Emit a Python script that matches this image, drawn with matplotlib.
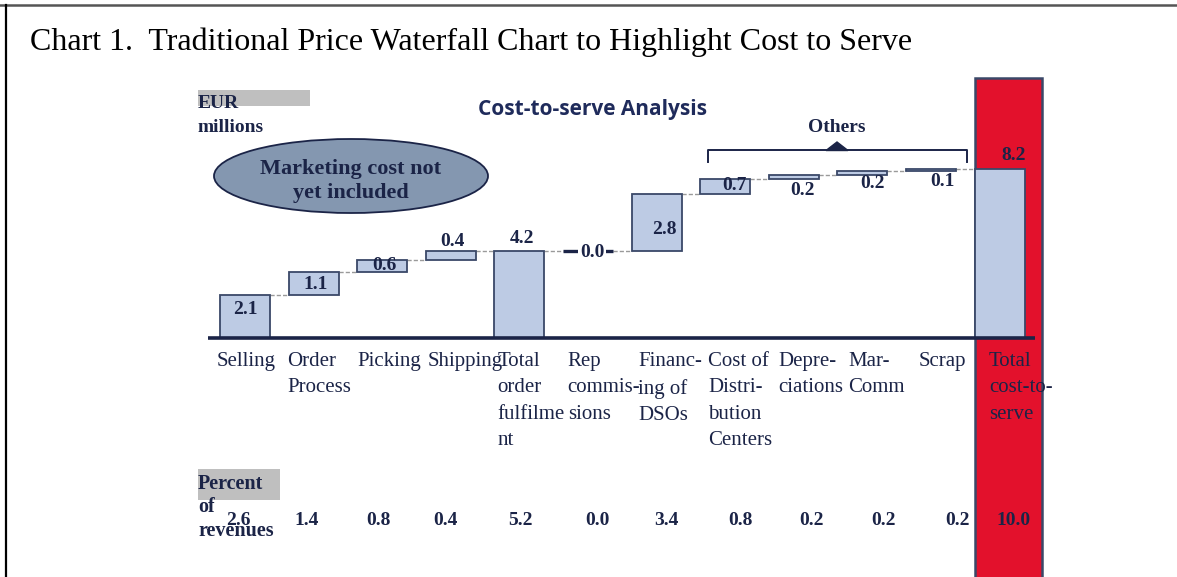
import matplotlib
matplotlib.use("Agg")
import matplotlib.pyplot as plt
from matplotlib.patches import Ellipse, Rectangle, Polygon
from matplotlib.lines import Line2D

# ---------------- data ----------------
categories = ["Selling", "Order\nProcess", "Picking", "Shipping",
              "Total\norder\nfulfilme\nnt", "Rep\ncommis-\nsions",
              "Financ-\ning of\nDSOs", "Cost of\nDistri-\nbution\nCenters",
              "Depre-\nciations", "Mar-\nComm", "Scrap", "Total\ncost-to-\nserve"]
values = [2.1, 1.1, 0.6, 0.4, 4.2, 0.0, 2.8, 0.7, 0.2, 0.2, 0.1, 8.2]
is_total = [False, False, False, False, True, False, False, False, False, False, False, True]
pct_revenue = ["2.6", "1.4", "0.8", "0.4", "5.2", "0.0", "3.4", "0.8", "0.2", "0.2", "0.2", "10.0"]

# ---------------- layout / style ----------------
W, H = 1177, 577
NAVY = "#1B2447"
EDGE = "#3A4868"
FILL = "#BDCBE4"
RED = "#E3112C"
GRAY = "#BFBFBF"
SERIF = ["Liberation Serif", "DejaVu Serif"]

# value label placement: (mode, dx, dy)
label_place = [("mid", 0.00, 0.10), ("mid", 0.03, -0.25), ("mid", 0.03, -0.20),
               ("top", 0.03, 0.25), ("top", 0.04, 0.42), ("mid", 0.06, -0.25),
               ("mid", 0.12, -0.55), ("mid", 0.14, -0.15), ("bot", 0.13, -0.75),
               ("bot", 0.15, -0.62), ("bot", 0.17, -0.72), ("top", 0.20, 0.45)]
pct_x_px = [238, 307, 378, 445, 520, 597, 666, 740, 812, 883, 957, 1013]

fig = plt.figure(figsize=(W / 100, H / 100), dpi=100)
ax = fig.add_axes([0, 0, 1, 1])
PX0, PXS = 245.0, 68.6     # pixel of category 0, pixels per category
PY0, PYS = 338.0, 20.6     # pixel of value 0, pixels per unit
ax.set_xlim((0 - PX0) / PXS, (W - PX0) / PXS)
ax.set_ylim((PY0 - H) / PYS, PY0 / PYS)
ax.axis("off")


def fp(px, py):
    return px / W, 1 - py / H


bw = 0.73
n = len(values)

# running bottoms
bottoms, tops = [], []
cum = 0.0
for v, t in zip(values, is_total):
    if t:
        bottoms.append(0.0)
        tops.append(v)
        cum = v
    else:
        bottoms.append(cum)
        cum += v
        tops.append(cum)

# red highlight column behind the final total
ax.add_patch(Rectangle((n - 1 - bw / 2, ax.get_ylim()[0] - 1), 0.99,
                       12.62 - ax.get_ylim()[0] + 1, facecolor=RED,
                       edgecolor=EDGE, linewidth=1.8, zorder=1))

# bars
for i in range(n):
    h = tops[i] - bottoms[i]
    if h > 0:
        ax.bar(i, h, bottom=bottoms[i], width=bw, color=FILL, edgecolor=EDGE,
               linewidth=1.3, zorder=3)
    else:
        ax.hlines(bottoms[i], i - bw / 2, i + bw / 2, color=NAVY, linewidth=2.4, zorder=3)

# connectors
for i in range(n - 1):
    ax.hlines(tops[i], i + bw / 2, i + 1 - bw / 2, color="#9A9A9A",
              linewidth=1.0, linestyles=(0, (3, 1.5)), zorder=2)

# baseline
ax.hlines(0, (208 - PX0) / PXS, (1035 - PX0) / PXS, color=NAVY, linewidth=2.6, zorder=4)

# value labels
for i in range(n):
    mode, dx, dy = label_place[i]
    if mode == "mid":
        y = (bottoms[i] + tops[i]) / 2 + dy
    elif mode == "top":
        y = tops[i] + dy
    else:
        y = bottoms[i] + dy
    kw = {}
    if values[i] == 0:
        kw["bbox"] = dict(facecolor="white", edgecolor="none", pad=1.5)
    ax.text(i + dx, y, f"{values[i]:.1f}", ha="center", va="baseline",
            fontsize=14, fontweight="bold", color=NAVY, family=SERIF, zorder=6, **kw)

# category labels
for i, c in enumerate(categories):
    x, y = fp(216.7 + 70.2 * i, 352)
    fig.text(x, y, c, ha="left", va="top", fontsize=15, color=NAVY,
             family=SERIF, linespacing=1.52, zorder=6)

# percent of revenue row
for i, p in enumerate(pct_revenue):
    x, y = fp(pct_x_px[i], 525)
    fig.text(x, y, p, ha="center", va="baseline", fontsize=14, fontweight="bold",
             color=NAVY, family=SERIF, zorder=6)

# "Percent of revenues" label with gray box
fig.patches.append(Rectangle(fp(198, 500), 82 / W, 31 / H, facecolor=GRAY,
                             edgecolor="none", transform=fig.transFigure, zorder=0))
x, y = fp(198, 474)
fig.text(x, y, "Percent\nof\nrevenues", ha="left", va="top", fontsize=14.5,
         fontweight="bold", color=NAVY, family=SERIF, linespacing=1.22, zorder=6)

# "EUR millions" with gray box
fig.patches.append(Rectangle(fp(198, 106), 112 / W, 16 / H, facecolor=GRAY,
                             edgecolor="none", transform=fig.transFigure, zorder=0))
x, y = fp(198, 108)
fig.text(x, y, "EUR", ha="left", va="baseline", fontsize=14, fontweight="bold",
         color=NAVY, family=SERIF)
x, y = fp(198, 132)
fig.text(x, y, "millions", ha="left", va="baseline", fontsize=14, fontweight="bold",
         color=NAVY, family=SERIF)

# chart subtitle
x, y = fp(593, 110)
fig.text(x, y, "Cost-to-serve Analysis", ha="center", va="center", fontsize=15,
         fontweight="bold", color="#1F2B5B", family=["Open Sans", "DejaVu Sans"])

# title
x, y = fp(30, 50)
fig.text(x, y, "Chart 1.  Traditional Price Waterfall Chart to Highlight Cost to Serve",
         ha="left", va="baseline", fontsize=23, color="black", family=SERIF)

# ellipse callout
fig.patches.append(Ellipse(fp(351, 176), 274 / W, 74 / H, facecolor="#8497B0",
                           edgecolor=NAVY, linewidth=1.3, transform=fig.transFigure))
x, y = fp(351, 181)
fig.text(x, y, "Marketing cost not\nyet included", ha="center", va="center",
         fontsize=16, fontweight="bold", color=NAVY, family=SERIF, linespacing=1.3)

# "Others" bracket
bx = [fp(708, 162), fp(708, 150), fp(967, 150), fp(967, 162)]
fig.lines.append(Line2D([p[0] for p in bx], [p[1] for p in bx], color=NAVY,
                        linewidth=1.4, transform=fig.transFigure))
fig.patches.append(Polygon([fp(826, 150.5), fp(848, 150.5), fp(837, 142)], closed=True,
                           facecolor=NAVY, edgecolor=NAVY, transform=fig.transFigure))
x, y = fp(837, 132)
fig.text(x, y, "Others", ha="center", va="baseline", fontsize=14, fontweight="bold",
         color=NAVY, family=SERIF)

# page border lines
fig.lines.append(Line2D([0, 1], [1 - 4.5 / H, 1 - 4.5 / H], color="#555555",
                        linewidth=1.8, transform=fig.transFigure))
fig.lines.append(Line2D([5.5 / W, 5.5 / W], [0, 1 - 4.5 / H], color="black",
                        linewidth=1.6, transform=fig.transFigure))

fig.savefig("out.png", dpi=100)
